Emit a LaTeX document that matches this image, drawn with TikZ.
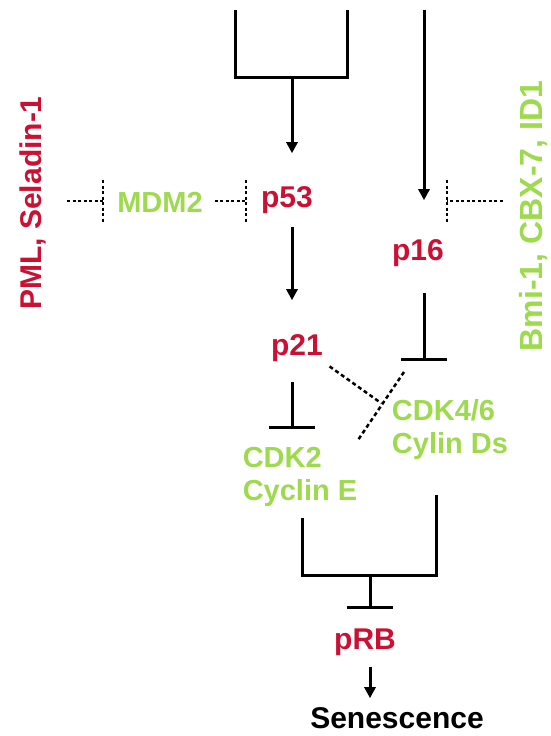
\documentclass[tikz,border=0pt]{standalone}
\usepackage{fontspec}
\setmainfont{Liberation Sans}
\usetikzlibrary{arrows.meta}
\definecolor{sred}{RGB}{204,16,52}
\definecolor{sgreen}{RGB}{158,218,78}

\begin{document}
\begin{tikzpicture}[
  x=1pt, y=-1pt,
  font=\bfseries\fontsize{30}{34}\selectfont,
  >={Triangle[length=11pt,width=11pt]},
  lbl/.style   = {inner sep=0pt, text=sred},
  fac/.style   = {inner sep=0pt, text=sgreen, align=left,
                  font=\bfseries\fontsize{29}{33}\selectfont},
  ln/.style    = {line width=3pt},
  act/.style   = {ln, ->},
  inh/.style   = {ln, -{Bar[width=46pt]}},
  dotl/.style  = {line width=2.5pt, dash pattern=on 3pt off 2.5pt},
  dashl/.style = {line width=2.5pt, dash pattern=on 4pt off 3pt}
]
\useasboundingbox (0,0) rectangle (551,736);

% --- Side factors ------------------------------------------------------------
\node[lbl, rotate=90] (pml) at (33,203) {PML, Seladin-1};
\node[fac, rotate=90, font=\bfseries\fontsize{32}{34}\selectfont] (bmi) at (533,216) {Bmi-1, CBX-7, ID1};

% --- Proteins ----------------------------------------------------------------
\node[fac] (mdm2)  at (160,202) {MDM2};
\node[lbl] (p53)   at (287,200) {p53};
\node[lbl] (p16)   at (418,253) {p16};
\node[lbl] (p21)   at (297,348) {p21};
\node[fac] (cdk2)  at (300,477) {CDK2\\ Cyclin E};
\node[fac] (cdk46) at (450,429) {CDK4/6\\ Cylin Ds};
\node[lbl] (prb)   at (365,642) {pRB};
\node[inner sep=0pt] (sen) at (397,718) {Senescence};

% --- Helper points -----------------------------------------------------------
\coordinate (tl)   at (235,10);
\coordinate (tr)   at (347,10);
\coordinate (tj)   at (292,77);
\coordinate (rtop) at (424,10);
\coordinate (pbar) at (103,201);
\coordinate (mbar) at (246,201);
\coordinate (bbar) at (447,201);
\coordinate (jn)   at (381,403);
\coordinate (bl)   at (302,518);
\coordinate (br)   at (436,495);
\coordinate (bj)   at (370,575);

% --- Top inputs --------------------------------------------------------------
\draw[ln] (tl) |- (tj) -| (tr);
\draw[act, shorten >=33pt] (tj) -- (tj |- p53.north);
\draw[act, shorten >=39pt] (rtop) -- (rtop |- p16.north);

% --- Dotted inhibitions ------------------------------------------------------
\draw[dotl, shorten <=21pt] (pml.south |- pbar) -- (pbar);
\draw[dotl] ([yshift=21pt]pbar) -- ([yshift=-22pt]pbar);
\draw[dotl, shorten <=12pt] (mdm2.east |- mbar) -- (mbar);
\draw[dotl] ([yshift=21pt]mbar) -- ([yshift=-22pt]mbar);
\draw[dotl, shorten <=16pt] (bmi.north |- bbar) -- (bbar);
\draw[dotl] ([yshift=21pt]bbar) -- ([yshift=-22pt]bbar);

% --- Middle cascade ----------------------------------------------------------
\draw[act, shorten <=13pt, shorten >=34pt] (tj |- p53.south) -- (tj |- p21.north);
\draw[inh, shorten <=20pt, shorten >=18pt] (tj |- p21.south) -- (tj |- cdk2.north);
\draw[inh, shorten <=26pt, shorten >=38pt] (rtop |- p16.south) -- (rtop |- cdk46.north);
\draw[dashl, shorten <=8pt] (p21.south east) -- (jn);
\draw[dashl] ([shift={(23,-31)}]jn) -- ([shift={(-23,37)}]jn);

% --- Output ------------------------------------------------------------------
\draw[ln] (bl) |- (bj) -| (br);
\draw[inh, shorten >=19pt] (bj) -- (bj |- prb.north);
\draw[act, shorten <=11pt, shorten >=9pt] (bj |- prb.south) -- (bj |- sen.north);

\end{tikzpicture}
\end{document}
